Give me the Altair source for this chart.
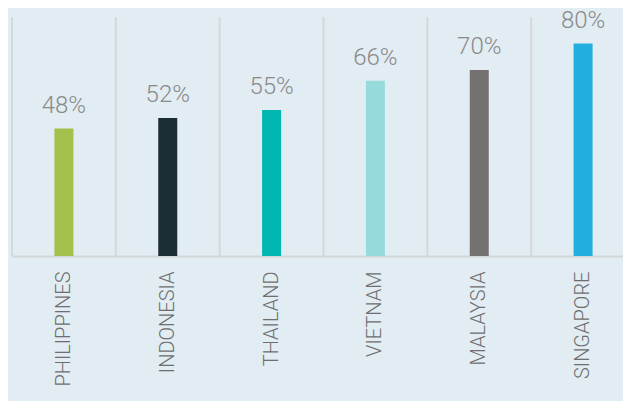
import altair as alt
import pandas as pd

countries = ["PHILIPPINES", "INDONESIA", "THAILAND", "VIETNAM", "MALAYSIA", "SINGAPORE"]
values = [48, 52, 55, 66, 70, 80]
labels = ["48%", "52%", "55%", "66%", "70%", "80%"]
colors = ["#a2c04b", "#1c2c34", "#00b7b1", "#95dbdc", "#767171", "#23aee0"]

df = pd.DataFrame({"country": countries, "value": values, "label": labels, "color": colors})

xscale = alt.Scale(paddingInner=0, paddingOuter=0)
xaxis = alt.Axis(title=None, labelAngle=270, labelFont="Roboto", labelFontSize=20,
                 labelColor="#6e6e6e", labelPadding=15, ticks=False,
                 domainColor="#d3d6d8", domainWidth=2, grid=False, labelFontWeight=300)
yscale = alt.Scale(domain=[0, 90])

base = alt.Chart(df)

grid = base.mark_rule(color="#d5d8da", strokeWidth=2).encode(
    x=alt.X("country:N", sort=countries, scale=xscale, axis=xaxis, bandPosition=0),
    y=alt.YDatum(datum=0, scale=yscale, axis=None),
    y2=alt.Y2Datum(datum=90),
)

bars = base.mark_bar(size=19).encode(
    x=alt.X("country:N", sort=countries, scale=xscale, axis=xaxis),
    y=alt.Y("value:Q", scale=yscale, axis=None),
    color=alt.Color("color:N", scale=None),
)

text = base.mark_text(dy=-16, baseline="alphabetic", font="Roboto", fontSize=24,
                      fontWeight=300, color="#8a8a8a").encode(
    x=alt.X("country:N", sort=countries, scale=xscale, axis=xaxis),
    y=alt.Y("value:Q", scale=yscale, axis=None),
    text="label:N",
)

chart = alt.layer(grid, bars, text).properties(
    width=623, height=239,
    autosize=alt.AutoSizeParams(type="none"),
    padding={"left": 4, "top": 9, "right": -12, "bottom": 145},
    background="#e2ecf3",
).configure_view(stroke=None)

chart.save("out.html", embed_options={"renderer": "svg", "actions": False})
